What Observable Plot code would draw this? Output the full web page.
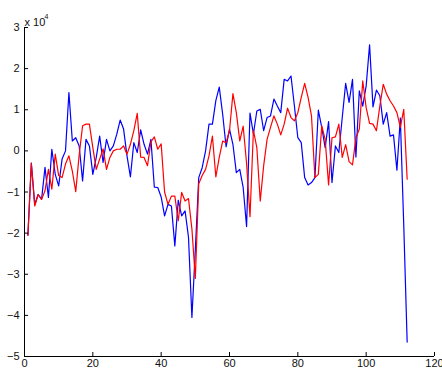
<!DOCTYPE html>
<html>
<head>
<meta charset="utf-8">
<script src="https://cdn.jsdelivr.net/npm/d3@7"></script>
<script src="https://cdn.jsdelivr.net/npm/@observablehq/plot@0.6"></script>
<style>
  html, body { margin: 0; padding: 0; background: #fff; }
  #chart svg { display: block; }
</style>
</head>
<body>
<div id="chart"></div>
<script>
// Two sampled series, values in units of 10^4 (see the exponent label on the y axis).
const blueSeries = [
  -2.05, -0.30, -1.30, -1.06, -1.18, -0.40, -1.13, 0.04, -0.57, -0.85,
  -0.20, 0.00, 1.42, 0.24, 0.32, 0.12, -0.73, 0.28, 0.12, -0.57,
  -0.16, 0.36, -0.28, 0.28, 0.00, 0.12, 0.40, 0.75, 0.53, -0.12,
  -0.63, 0.20, -0.04, 0.51, 0.16, -0.08, 0.28, -0.88, -0.89, -1.12,
  -1.58, -1.30, -1.34, -2.31, -1.20, -1.58, -1.46, -2.10, -4.05, -2.40,
  -0.65, -0.41, 0.00, 0.65, 0.65, 1.22, 1.55, 0.89, 0.10, 0.53,
  0.16, -0.53, -0.45, -0.89, -1.84, 0.92, 0.41, 0.97, 1.01, 0.49,
  0.81, 0.85, 1.26, 1.09, 0.93, 1.74, 1.70, 1.82, 1.09, 0.32,
  0.20, -0.65, -0.83, -0.77, -0.65, 0.99, 0.57, 0.08, 0.71, -0.77,
  0.12, -0.04, 0.81, 1.64, 1.18, 1.74, -0.15, 1.46, 1.09, 1.58,
  2.58, 1.07, 1.48, 1.34, 0.65, 0.93, 0.36, 0.39, -0.47, 0.80,
  -1.80, -4.65
];
const redSeries = [
  -2.05, -0.30, -1.34, -1.06, -1.18, -0.97, -0.45, -0.93, -0.08, -0.60,
  -0.65, -0.32, -0.12, -0.49, -0.99, -0.10, 0.61, 0.65, 0.65, 0.08,
  -0.45, -0.20, 0.05, -0.45, -0.16, 0.00, 0.04, 0.04, 0.12, -0.08,
  0.16, 0.49, 0.91, -0.15, -0.16, -0.36, 0.22, 0.34, 0.04, 0.17,
  -1.00, -1.30, -1.10, -1.10, -1.70, -1.01, -1.22, -1.16, -1.90, -3.10,
  -0.80, -0.60, -0.45, -0.12, 0.36, -0.63, -0.16, 0.24, 0.20, 0.49,
  1.39, 0.93, 0.24, 0.60, -0.30, -1.60, 0.50, 0.08, -1.22, -0.36,
  0.28, 0.57, 0.85, 0.65, 0.39, 0.65, 1.04, 0.81, 0.73, 0.93,
  1.30, 1.64, 1.30, 0.85, -0.65, -0.57, 0.61, 0.28, -0.83, 0.32,
  0.34, 0.65, -0.16, 0.15, -0.26, -0.34, 0.32, 0.53, 1.70, 1.05,
  0.67, 0.65, 0.49, 1.09, 1.62, 1.38, 1.22, 1.09, 0.93, 0.57,
  1.01, -0.69
];
const xTicks = [0, 20, 40, 60, 80, 100, 120];
const yTicks = [-5, -4, -3, -2, -1, 0, 1, 2, 3];
const exponentLabel = "x 10";
const exponentPower = "4";

const W = 442, H = 374;
const margin = {top: 27, right: 8, bottom: 18, left: 24};
const innerW = W - margin.left - margin.right;
const innerH = H - margin.top - margin.bottom;
const tickLen = 4;

const toRows = (values) => values.map((v, i) => ({x: i + 1, y: v}));
const blueRows = toRows(blueSeries);
const redRows = toRows(redSeries);

const chart = Plot.plot({
  width: W,
  height: H,
  marginTop: margin.top,
  marginRight: margin.right,
  marginBottom: margin.bottom,
  marginLeft: margin.left,
  style: {fontFamily: "'Liberation Sans', Arial, Helvetica, sans-serif", fontSize: "11px", color: "#111", background: "#fff"},
  x: {domain: [0, 120], ticks: xTicks},
  y: {domain: [-5, 3], ticks: yTicks},
  marks: [
    Plot.line(blueRows, {x: "x", y: "y", stroke: "#0000ff", strokeWidth: 1.2}),
    Plot.line(redRows, {x: "x", y: "y", stroke: "#ff0000", strokeWidth: 1.2}),
    // axis lines (left and bottom only)
    Plot.ruleX([0], {stroke: "#000", strokeWidth: 1}),
    Plot.ruleY([-5], {stroke: "#000", strokeWidth: 1}),
    // inward-pointing ticks
    Plot.tickY(yTicks, {y: d => d, stroke: "#000", insetRight: innerW - tickLen}),
    Plot.tickX(xTicks, {x: d => d, stroke: "#000", insetTop: innerH - tickLen}),
    Plot.axisY(yTicks, {tickSize: 0, tickPadding: 5, label: null, fill: "#111"}),
    Plot.axisX(xTicks, {tickSize: 0, tickPadding: 3, label: null, fill: "#111"}),
    // exponent label above the y axis
    Plot.text([exponentLabel], {frameAnchor: "top-left", text: d => d, textAnchor: "start", dx: 0, dy: -9, fill: "#111", fontSize: 11}),
    Plot.text([exponentPower], {frameAnchor: "top-left", text: d => d, textAnchor: "start", dx: 20, dy: -13, fill: "#111", fontSize: 7})
  ]
});
document.getElementById("chart").appendChild(chart);
</script>
</body>
</html>
